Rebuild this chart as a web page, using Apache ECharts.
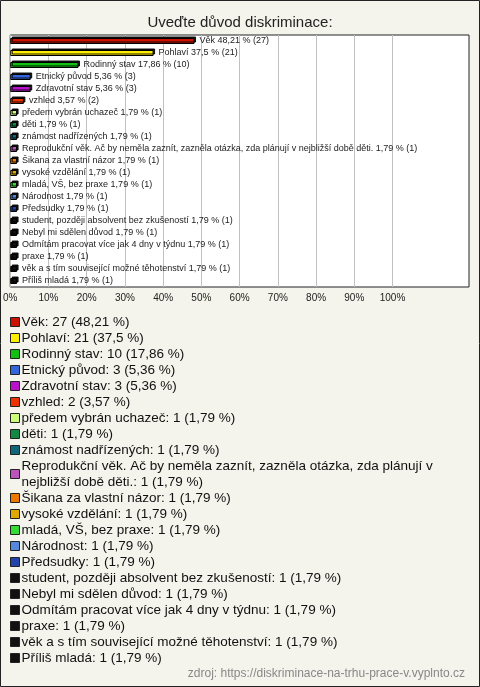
<!DOCTYPE html>
<html><head><meta charset="utf-8">
<script src="https://cdn.jsdelivr.net/npm/echarts@6/dist/echarts.min.js"></script>
<style>html,body{margin:0;padding:0;background:#f4f4ec}#c{width:480px;height:687px}</style>
</head><body><div id="c"></div>
<script>
const categories = ["Věk","Pohlaví","Rodinný stav","Etnický původ","Zdravotní stav","vzhled","předem vybrán uchazeč","děti","známost nadřízených","Reprodukční věk. Ač by neměla zaznít, zazněla otázka, zda plánují v nejbližší době děti.","Šikana za vlastní názor","vysoké vzdělání","mladá, VŠ, bez praxe","Národnost","Předsudky","student, později absolvent bez zkušeností","Nebyl mi sdělen důvod","Odmítám pracovat více jak 4 dny v týdnu","praxe","věk a s tím související možné těhotenství","Příliš mladá"];
const counts = [27,21,10,3,3,2,1,1,1,1,1,1,1,1,1,1,1,1,1,1,1];
const percents = [48.21,37.5,17.86,5.36,5.36,3.57,1.79,1.79,1.79,1.79,1.79,1.79,1.79,1.79,1.79,1.79,1.79,1.79,1.79,1.79,1.79];
const colors = ["#cc1100","#ffee00","#11c011","#3366dd","#bb11cc","#ee3300","#ccff77","#118844","#116677","#bb55bb","#ee7700","#ddaa00","#33dd33","#5588dd","#2244aa","#111111","#111111","#111111","#111111","#111111","#111111"];
const xTicks = [0,10,20,30,40,50,60,70,80,90,100];

const fmt = v => String(v).replace('.', ',');
const series = categories.map((name, i) => ({
  name: name,
  type: 'bar',
  stack: 'all',
  barWidth: 6,
  data: categories.map((c, j) => j === i ? percents[i] : '-'),
  itemStyle: { color: colors[i], borderColor: '#000', borderWidth: 1,
    shadowColor: 'rgba(0,0,0,0.9)', shadowOffsetX: 1.5, shadowOffsetY: -1.5, shadowBlur: 0 },
  label: { show: true, position: 'right', distance: 5, fontSize: 9, color: '#222', fontFamily: 'Liberation Sans, Arial',
    formatter: () => name + ' ' + fmt(percents[i]) + ' % (' + counts[i] + ')' },
  emphasis: { disabled: true }
}));

const splitColors = [];
for (let v = 0; v <= 120; v += 10) splitColors.push(xTicks.indexOf(v) >= 0 ? '#c0c0c0' : 'rgba(0,0,0,0)');

const chart = echarts.init(document.getElementById('c'), null, { renderer: 'canvas' });
chart.setOption({
  backgroundColor: '#f4f4ec',
  animation: false,
  title: [
    { text: 'Uveďte důvod diskriminace:', left: 'center', top: 10,
      textStyle: { fontSize: 15, fontWeight: 'normal', color: '#222', fontFamily: 'Liberation Sans, Arial' } },
    { text: 'zdroj: https://diskriminace-na-trhu-prace-v.vyplnto.cz', right: 10, bottom: 2,
      textStyle: { fontSize: 12, fontWeight: 'normal', color: '#888', fontFamily: 'Liberation Sans, Arial' } }
  ],
  grid: { left: 10, right: 11, top: 35, height: 252, show: true, backgroundColor: '#fff', borderColor: '#222', borderWidth: 1 },
  xAxis: {
    type: 'value', min: 0, max: 120, interval: 10,
    axisLine: { show: false }, axisTick: { show: false },
    splitLine: { show: true, lineStyle: { color: splitColors, width: 1 } },
    axisLabel: { margin: 6, fontSize: 10, color: '#222', fontFamily: 'Liberation Sans, Arial',
      formatter: v => xTicks.indexOf(v) >= 0 ? v + '%' : '' }
  },
  yAxis: {
    type: 'category', inverse: true, data: categories,
    axisLine: { show: false }, axisTick: { show: false }, axisLabel: { show: false }, splitLine: { show: false }
  },
  legend: {
    orient: 'vertical', left: 10, top: 314, padding: 0, itemGap: 0, itemWidth: 9, itemHeight: 9, icon: 'rect',
    selectedMode: false,
    data: categories.map((c, i) => ({ name: c, itemStyle: { color: colors[i], borderColor: '#222', borderWidth: 1 } })),
    textStyle: { fontSize: 13.5, color: '#111', lineHeight: 16, fontFamily: 'Liberation Sans, Arial', width: 520, overflow: 'break', padding: [0, 0, 0, -3] },
    formatter: name => { const i = categories.indexOf(name); return name + ': ' + counts[i] + ' (' + fmt(percents[i]) + ' %)'; }
  },
  graphic: [{ type: 'rect', shape: { x: 0.5, y: 0.5, width: 479, height: 686 }, style: { fill: 'none', stroke: '#222', lineWidth: 1 }, silent: true }],
  series: series
});
</script></body></html>
